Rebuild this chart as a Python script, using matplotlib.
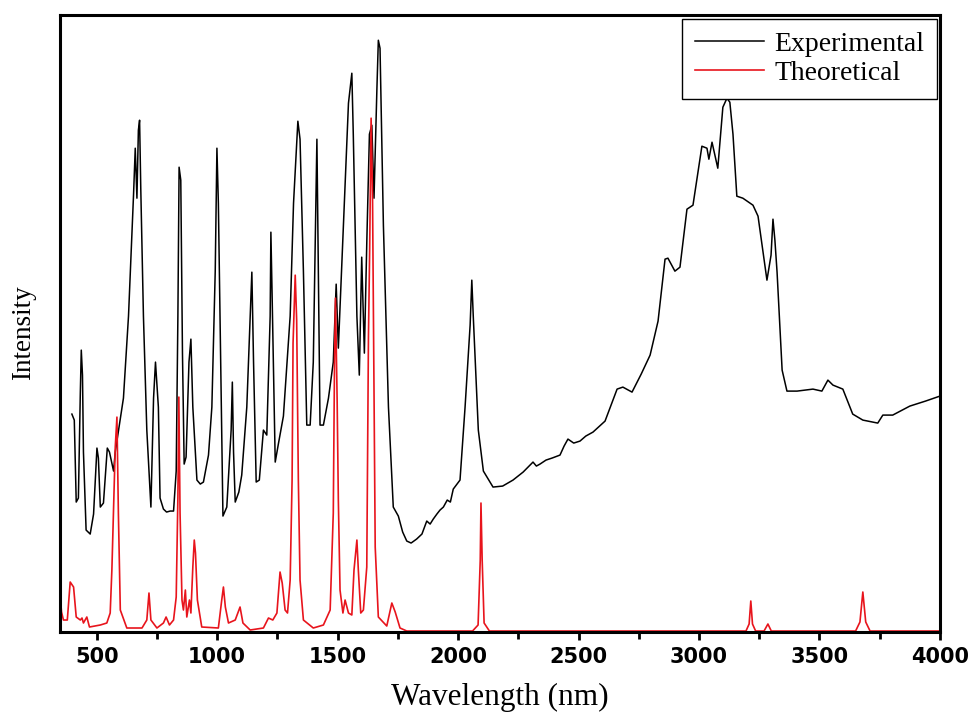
import matplotlib
matplotlib.use("Agg")
import matplotlib.pyplot as plt
from matplotlib.ticker import MultipleLocator

# Experimental spectrum (wavelength nm, intensity a.u.)
exp_x = [397, 407, 415, 424, 432, 436, 441, 445, 456, 473, 487, 501, 507, 515,
         528, 544, 553, 570, 577, 611, 632, 653, 660, 667, 673, 678, 683, 694,
         708, 725, 736, 744, 756, 763, 777, 790, 805, 819, 830, 837, 842, 849,
         856, 863, 871, 883, 891, 899, 916, 930, 943, 964, 978, 992, 999, 1005,
         1012, 1024, 1040, 1058, 1063, 1068, 1075, 1090, 1102, 1123, 1137, 1144,
         1151, 1162, 1175, 1192, 1206, 1220, 1223, 1228, 1241, 1254, 1275, 1303,
         1317, 1335, 1344, 1358, 1372, 1386, 1399, 1409, 1414, 1418, 1427, 1441,
         1462, 1482, 1494, 1503, 1524, 1545, 1559, 1565, 1580, 1590, 1600, 1611,
         1621, 1632, 1642, 1651, 1663, 1669, 1676, 1690, 1711, 1731, 1752, 1770,
         1787, 1805, 1828, 1850, 1870, 1884, 1897, 1912, 1925, 1939, 1955, 1968,
         1980, 2008, 2029, 2050, 2057, 2063, 2084, 2105, 2145, 2185, 2228, 2270,
         2311, 2325, 2340, 2365, 2390, 2423, 2440, 2456, 2480, 2506, 2530, 2560,
         2610, 2660, 2684, 2722, 2760, 2797, 2830, 2859, 2871, 2900, 2921, 2950,
         2975, 3012, 3033, 3041, 3054, 3078, 3099, 3116, 3128, 3141, 3157, 3182,
         3224, 3245, 3282, 3299, 3307, 3315, 3324, 3345, 3365, 3407, 3473, 3510,
         3535, 3556, 3597, 3638, 3680, 3742, 3763, 3804, 3875, 3940, 4000]
exp_y = [218, 212, 130, 134, 239, 282, 257, 180, 102, 98, 118, 184, 174, 125,
         129, 184, 180, 161, 180, 234, 316, 438, 484, 434, 502, 512, 443, 316,
         202, 125, 234, 270, 225, 134, 123, 120, 121, 121, 161, 316, 465, 452,
         279, 168, 175, 270, 293, 225, 152, 148, 150, 177, 225, 361, 484, 429,
         316, 116, 125, 202, 250, 180, 130, 140, 157, 225, 316, 360,
         270, 150, 152, 202, 197, 316, 400, 338, 170, 188, 216, 316,
         429, 511, 493, 361, 207, 207, 270, 420, 493, 407, 207, 207,
         234, 270, 348, 284, 407, 529, 559, 498, 316, 257, 375, 279,
         389, 498, 507, 434, 543, 592, 584, 407, 225, 125, 116, 100,
         91, 89, 93, 98, 111, 108, 113, 118, 122, 125, 132, 130,
         143, 152, 225, 307, 352, 316, 202, 161, 145, 146, 152, 160,
         170, 166, 168, 172, 174, 177, 186, 193, 189, 191, 196, 200,
         211, 243, 245, 240, 258, 277, 311, 373, 374, 361, 365, 423,
         427, 486, 484, 473, 490, 464, 525, 534, 530, 498, 436, 434,
         427, 416, 352, 377, 413, 392, 360, 262, 241, 241, 243, 241,
         252, 247, 243, 218, 212, 209, 217, 217, 226, 231, 236]

# Theoretical spectrum
theo_x = [350, 354, 362, 378, 390, 404, 415, 432, 439, 445, 459, 470, 515, 542,
          556, 563, 577, 584, 590, 598, 625, 688, 708, 717, 725, 750, 777, 788,
          802, 819, 830, 837, 841, 846, 854, 860, 868, 874, 885, 891, 899, 905,
          910, 918, 936, 1005, 1019, 1026, 1034, 1047, 1075, 1095, 1107, 1137,
          1192, 1213, 1231, 1248, 1261, 1270, 1282, 1292, 1303, 1311, 1315, 1324,
          1330, 1337, 1344, 1358, 1399, 1441, 1469, 1482, 1487, 1491, 1498, 1503,
          1510, 1522, 1531, 1545, 1559, 1568, 1580, 1586, 1596, 1607, 1621, 1628,
          1633, 1639, 1645, 1656, 1669, 1704, 1725, 1739, 1759, 1787, 2060, 2083,
          2092, 2095, 2100, 2108, 2130, 3195, 3208, 3215, 3222, 3235, 3270, 3286,
          3300, 3650, 3668, 3680, 3692, 3710, 4000]
theo_y = [32, 20, 12, 12, 50, 45, 15, 12, 14, 9, 15, 5, 7, 9,
          19, 62, 185, 215, 119, 22, 4, 4, 12, 39, 12, 4, 9, 15,
          7, 12, 35, 135, 235, 119, 32, 22, 42, 15, 32, 19, 65, 92,
          79, 32, 5, 4, 32, 45, 25, 9, 12, 25, 9, 2,
          4, 14, 12, 19, 60, 49, 22, 19, 52, 152, 289, 357,
          312, 152, 52, 12, 4, 7, 22, 119, 267, 334, 232, 132,
          42, 19, 32, 19, 17, 62, 92, 62, 19, 22, 65, 296,
          382, 514, 432, 85, 15, 6, 29, 20, 4, 1, 1, 7,
          72, 129, 72, 9, 1, 1, 8, 31, 8, 1, 1, 8,
          1, 1, 10, 40, 10, 1, 1]

serif = ["Liberation Serif", "DejaVu Serif"]

fig = plt.figure(figsize=(9.69, 7.13), dpi=100)
ax = fig.add_axes([0.062, 0.1136, 0.908, 0.865])

ax.plot(exp_x, exp_y, color="black", lw=1.1, label="Experimental")
ax.plot(theo_x, theo_y, color="#e8141c", lw=1.2, label="Theoretical")

ax.set_xlim(348, 4000)
ax.set_ylim(0, 617)
ax.set_yticks([])
ax.xaxis.set_major_locator(MultipleLocator(500))
ax.xaxis.set_minor_locator(MultipleLocator(250))
ax.tick_params(axis="x", which="major", direction="out", length=6, width=2,
               labelsize=15, pad=5)
ax.tick_params(axis="x", which="minor", direction="out", length=5, width=2)
for lab in ax.get_xticklabels():
    lab.set_fontweight("bold")
    lab.set_family("DejaVu Sans")
for sp in ax.spines.values():
    sp.set_linewidth(2.2)

ax.set_xlabel("Wavelength (nm)", family=serif, fontsize=22.5, labelpad=11)
ax.set_ylabel("Intensity", family=serif, fontsize=19.5)
ax.yaxis.set_label_coords(-0.027, 0.485)

leg = ax.legend(loc="upper right", prop={"family": serif, "size": 20},
                fancybox=False, edgecolor="black", framealpha=1,
                borderaxespad=0.12, handlelength=2.5, labelspacing=0.15,
                borderpad=0.45, handletextpad=0.35)
leg.get_frame().set_linewidth(1.0)

fig.savefig("out.png", dpi=100)
